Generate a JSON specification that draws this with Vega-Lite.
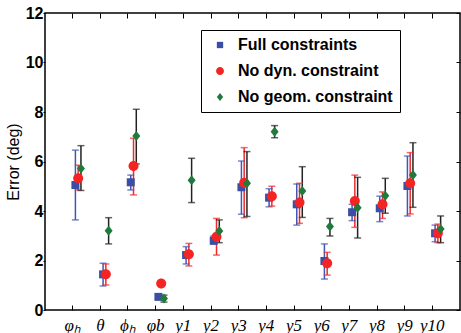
{
  "$schema": "https://vega.github.io/schema/vega-lite/v6.json",
  "width": 415,
  "height": 297,
  "autosize": {"type": "none"},
  "padding": {"left": 45, "top": 13, "right": 1, "bottom": 23},
  "background": "white",
  "config": {
    "view": {"stroke": "black", "strokeWidth": 1.5},
    "axis": {"domain": false, "tickColor": "black", "labelColor": "black", "titleColor": "black", "gridColor": "black", "gridOpacity": 1, "gridWidth": 1}
  },
  "data": {
    "values": [
      {"var": "φₕ", "series": "Full constraints", "value": 5.05, "lo": 3.64, "hi": 6.46},
      {"var": "φₕ", "series": "No dyn. constraint", "value": 5.32, "lo": 4.85, "hi": 5.85},
      {"var": "φₕ", "series": "No geom. constraint", "value": 5.72, "lo": 4.83, "hi": 6.64},
      {"var": "θ", "series": "Full constraints", "value": 1.44, "lo": 0.97, "hi": 1.89},
      {"var": "θ", "series": "No dyn. constraint", "value": 1.44, "lo": 1.01, "hi": 1.86},
      {"var": "θ", "series": "No geom. constraint", "value": 3.2, "lo": 2.67, "hi": 3.73},
      {"var": "ϕₕ", "series": "Full constraints", "value": 5.16, "lo": 4.85, "hi": 5.45},
      {"var": "ϕₕ", "series": "No dyn. constraint", "value": 5.82, "lo": 4.65, "hi": 6.94},
      {"var": "ϕₕ", "series": "No geom. constraint", "value": 7.03, "lo": 5.9, "hi": 8.11},
      {"var": "φb", "series": "Full constraints", "value": 0.53, "lo": 0.45, "hi": 0.62},
      {"var": "φb", "series": "No dyn. constraint", "value": 1.07, "lo": 1.07, "hi": 1.07},
      {"var": "φb", "series": "No geom. constraint", "value": 0.46, "lo": 0.32, "hi": 0.6},
      {"var": "y1", "series": "Full constraints", "value": 2.22, "lo": 1.86, "hi": 2.56},
      {"var": "y1", "series": "No dyn. constraint", "value": 2.25, "lo": 1.78, "hi": 2.69},
      {"var": "y1", "series": "No geom. constraint", "value": 5.24, "lo": 4.34, "hi": 6.13},
      {"var": "y2", "series": "Full constraints", "value": 2.8, "lo": 2.66, "hi": 2.99},
      {"var": "y2", "series": "No dyn. constraint", "value": 2.96, "lo": 2.22, "hi": 3.7},
      {"var": "y2", "series": "No geom. constraint", "value": 3.19, "lo": 2.72, "hi": 3.64},
      {"var": "y3", "series": "Full constraints", "value": 4.96, "lo": 3.87, "hi": 6.02},
      {"var": "y3", "series": "No dyn. constraint", "value": 5.14, "lo": 3.73, "hi": 6.56},
      {"var": "y3", "series": "No geom. constraint", "value": 5.12, "lo": 3.78, "hi": 6.4},
      {"var": "y4", "series": "Full constraints", "value": 4.54, "lo": 4.17, "hi": 4.9},
      {"var": "y4", "series": "No dyn. constraint", "value": 4.6, "lo": 4.2, "hi": 5.0},
      {"var": "y4", "series": "No geom. constraint", "value": 7.2, "lo": 6.96, "hi": 7.45},
      {"var": "y5", "series": "Full constraints", "value": 4.27, "lo": 3.43, "hi": 5.09},
      {"var": "y5", "series": "No dyn. constraint", "value": 4.34, "lo": 3.5, "hi": 5.12},
      {"var": "y5", "series": "No geom. constraint", "value": 4.81, "lo": 3.74, "hi": 5.79},
      {"var": "y6", "series": "Full constraints", "value": 1.98, "lo": 1.25, "hi": 2.67},
      {"var": "y6", "series": "No dyn. constraint", "value": 1.89, "lo": 1.41, "hi": 2.33},
      {"var": "y6", "series": "No geom. constraint", "value": 3.37, "lo": 2.99, "hi": 3.7},
      {"var": "y7", "series": "Full constraints", "value": 3.95, "lo": 3.61, "hi": 4.27},
      {"var": "y7", "series": "No dyn. constraint", "value": 4.4, "lo": 3.34, "hi": 5.45},
      {"var": "y7", "series": "No geom. constraint", "value": 4.13, "lo": 2.91, "hi": 5.36},
      {"var": "y8", "series": "Full constraints", "value": 4.11, "lo": 3.57, "hi": 4.6},
      {"var": "y8", "series": "No dyn. constraint", "value": 4.27, "lo": 3.7, "hi": 4.77},
      {"var": "y8", "series": "No geom. constraint", "value": 4.62, "lo": 3.91, "hi": 5.32},
      {"var": "y9", "series": "Full constraints", "value": 5.01, "lo": 3.8, "hi": 6.22},
      {"var": "y9", "series": "No dyn. constraint", "value": 5.12, "lo": 3.88, "hi": 6.36},
      {"var": "y9", "series": "No geom. constraint", "value": 5.45, "lo": 4.15, "hi": 6.76},
      {"var": "y10", "series": "Full constraints", "value": 3.1, "lo": 2.76, "hi": 3.43},
      {"var": "y10", "series": "No dyn. constraint", "value": 3.1, "lo": 2.72, "hi": 3.47},
      {"var": "y10", "series": "No geom. constraint", "value": 3.27, "lo": 2.72, "hi": 3.8}
    ]
  },
  "encoding": {
    "x": {
      "field": "var", "type": "nominal", "sort": null,
      "scale": {"type": "band", "paddingInner": 0, "paddingOuter": 0.5,
        "domain": ["φₕ", "θ", "ϕₕ", "φb", "y1", "y2", "y3", "y4", "y5", "y6", "y7", "y8", "y9", "y10"]},
      "axis": {"orient": "bottom", "title": null, "labelAngle": 0, "ticks": false, "labelPadding": 7,
        "grid": true, "gridDash": [5, 287, 5, 1000],
        "labelFont": "Liberation Serif", "labelFontStyle": "italic", "labelFontSize": 17, "labelBaseline": "top"}
    },
    "xOffset": {
      "field": "series", "type": "nominal",
      "scale": {"type": "band", "paddingInner": 0, "paddingOuter": 0, "range": [15.2, 23.5],
        "domain": ["Full constraints", "No dyn. constraint", "No geom. constraint"]}
    }
  },
  "layer": [
    {
      "mark": {"type": "rule", "strokeWidth": 1.5},
      "encoding": {
        "y": {
          "field": "lo", "type": "quantitative",
          "scale": {"domain": [0, 12], "nice": false, "zero": true},
          "axis": {"orient": "left", "values": [0, 2, 4, 6, 8, 10, 12], "tickSize": 2, "labelPadding": 0,
            "grid": true, "gridDash": [0, 411, 4, 1000],
            "labelFont": "Liberation Sans", "labelFontWeight": "bold", "labelFontSize": 16,
            "title": "Error (deg)", "titleFont": "Liberation Sans", "titleFontWeight": "normal", "titleFontSize": 16, "titlePadding": 4}
        },
        "y2": {"field": "hi"},
        "stroke": {
          "field": "series", "type": "nominal", "legend": null,
          "scale": {"range": ["#4156b5", "#f02a2a", "#222222"]}
        }
      }
    },
    {
      "mark": {"type": "tick", "orient": "horizontal", "size": 7, "thickness": 1.5},
      "encoding": {
        "y": {"field": "lo", "type": "quantitative"},
        "fill": {
          "field": "series", "type": "nominal", "legend": null,
          "scale": {"range": ["#4156b5", "#f02a2a", "#222222"]}
        }
      }
    },
    {
      "mark": {"type": "tick", "orient": "horizontal", "size": 7, "thickness": 1.5},
      "encoding": {
        "y": {"field": "hi", "type": "quantitative"},
        "fill": {"field": "series", "type": "nominal", "legend": null}
      }
    },
    {
      "mark": {"type": "point", "filled": true, "opacity": 1, "size": 64},
      "encoding": {
        "y": {"field": "value", "type": "quantitative"},
        "color": {
          "field": "series", "type": "nominal",
          "scale": {"domain": ["Full constraints", "No dyn. constraint", "No geom. constraint"], "range": ["#3a4fa3", "#f52424", "#1f7a3c"]},
          "legend": {
            "title": null, "orient": "none", "legendX": 156, "legendY": 17,
            "strokeColor": "black", "fillColor": "white", "padding": 7,
            "labelFont": "Liberation Sans", "labelFontWeight": "bold", "labelFontSize": 16, "labelColor": "black",
            "rowPadding": 10, "symbolOffset": 4, "labelOffset": 10, "symbolSize": 40, "labelLimit": 300
          }
        },
        "shape": {
          "field": "series", "type": "nominal",
          "scale": {"domain": ["Full constraints", "No dyn. constraint", "No geom. constraint"],
            "range": ["M-1,-1H1V1H-1Z", "M-1.25,0A1.25,1.25 0 1,0 1.25,0A1.25,1.25 0 1,0 -1.25,0Z", "M0,-1.25L1,0L0,1.25L-1,0Z"]}
        }
      }
    }
  ]
}
